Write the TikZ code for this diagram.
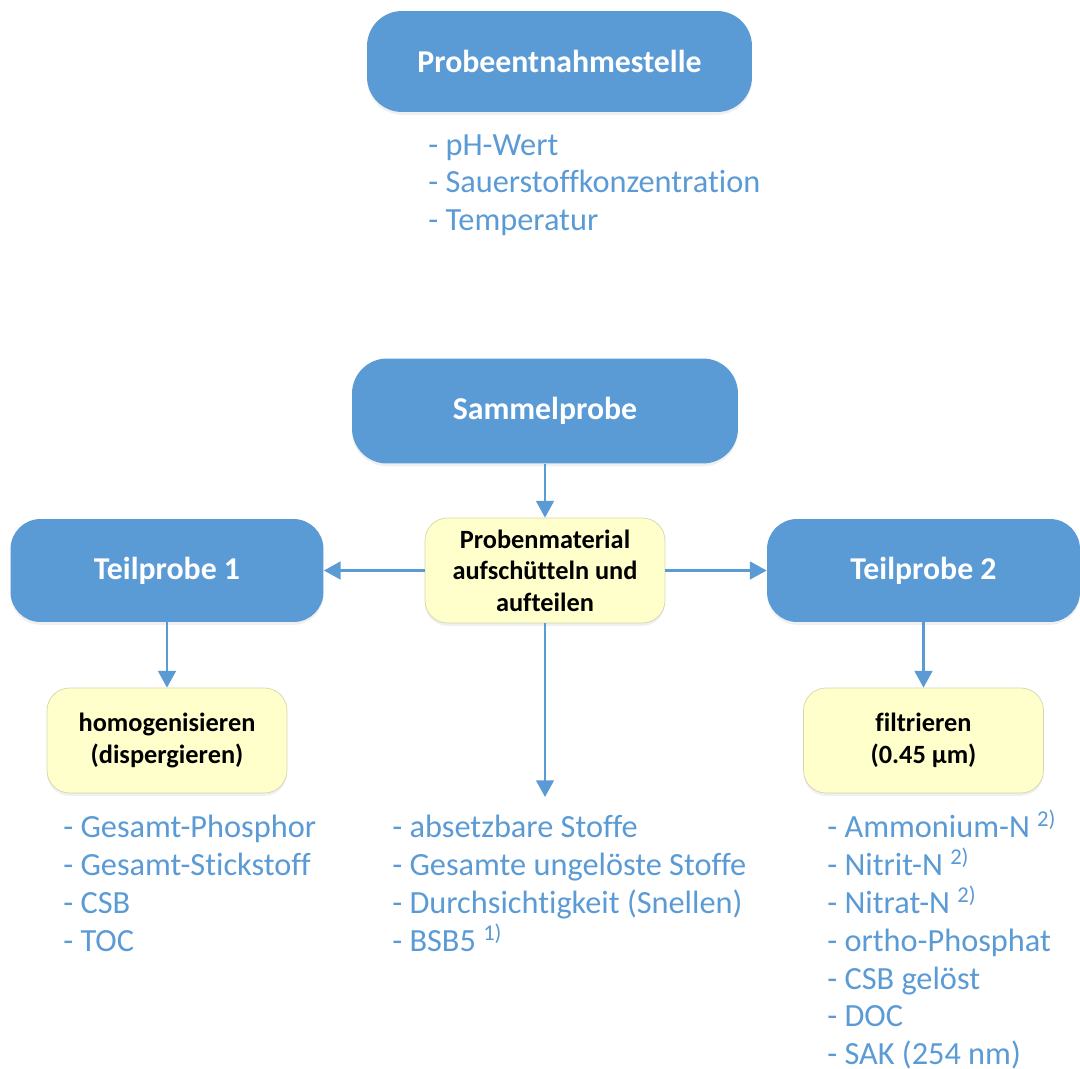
\documentclass[tikz,border=0pt]{standalone}
\usepackage{fontspec}
\setmainfont{Carlito}[Ligatures=NoCommon]
\usetikzlibrary{arrows.meta,shadows}
\definecolor{boxblue}{RGB}{91,155,213}
\definecolor{noteyellow}{RGB}{255,255,204}
\definecolor{noteedge}{RGB}{214,214,172}
\newcommand{\fnote}[1]{\smash{\textsuperscript{#1}}}

\begin{document}
\begin{tikzpicture}[x=0.02cm, y=-0.02cm,
  bluebox/.style={rectangle, rounded corners=0.6cm, fill=boxblue, text=white,
    font=\fontsize{18.1}{21}\selectfont\bfseries, minimum height=2.06cm, inner sep=0pt,
    drop shadow={shadow xshift=0pt, shadow yshift=-1.6pt, opacity=0.12}},
  notebox/.style={rectangle, rounded corners=0.45cm, draw=noteedge, fill=noteyellow,
    font=\fontsize{15}{18}\selectfont\bfseries, align=center,
    minimum width=4.8cm, minimum height=2.1cm, inner sep=0pt,
    drop shadow={shadow xshift=0pt, shadow yshift=-1.6pt, opacity=0.12}},
  itemlist/.style={anchor=north west, align=left, inner sep=0pt, text=boxblue,
    font=\fontsize{18.4}{21.55}\selectfont},
  flow/.style={-{Triangle[width=10pt,length=9.5pt]}, line width=1.5pt, draw=boxblue}
]
\useasboundingbox (0,0) rectangle (1080,1069);

% Sampling point
\node[bluebox, minimum width=7.7cm, minimum height=2.02cm, rounded corners=0.7cm] (entnahme) at (559.5,61.5) {Probeentnahmestelle};
\node[itemlist] (vorort) at (428,134) {- pH-Wert\\- Sauerstoffkonzentration\\- Temperatur};

% Composite sample and splitting
\node[bluebox, minimum width=7.72cm, minimum height=2.1cm, rounded corners=0.7cm] (sammel) at (545,411) {Sammelprobe};
\node[notebox] (aufteilen) at (545,570.5) {Probenmaterial\\aufschütteln und\\aufteilen};
\node[bluebox, minimum width=6.26cm] (teil1) at (167,570.5) {Teilprobe 1};
\node[bluebox, minimum width=6.26cm] (teil2) at (923.5,570.5) {Teilprobe 2};

% Pre-treatment
\node[notebox] (homogen) at (167,740.5) {homogenisieren\\(dispergieren)};
\node[notebox] (filter) at (923.5,740.5) {filtrieren\\(0.45 µm)};
\coordinate (absetz) at (545,797);

% Parameter lists
\node[itemlist] (liste1) at (63,815) {- Gesamt-Phosphor\\- Gesamt-Stickstoff\\- CSB\\- TOC};
\node[itemlist] (liste0) at (392,815) {- absetzbare Stoffe\\- Gesamte ungelöste Stoffe\\- Durchsichtigkeit (Snellen)\\- BSB5 \fnote{1)}};
\node[itemlist] (liste2) at (827,815) {- Ammonium-N \fnote{2)}\\- Nitrit-N \fnote{2)}\\- Nitrat-N \fnote{2)}\\- ortho-Phosphat\\- CSB gelöst\\- DOC\\- SAK (254 nm)};

% Arrows
\draw[flow] (sammel) -- (aufteilen);
\draw[flow] (aufteilen) -- (teil1);
\draw[flow] (aufteilen) -- (teil2);
\draw[flow] (teil1) -- (homogen);
\draw[flow] (teil2) -- (filter);
\draw[flow] (aufteilen) -- (absetz);

\end{tikzpicture}
\end{document}
